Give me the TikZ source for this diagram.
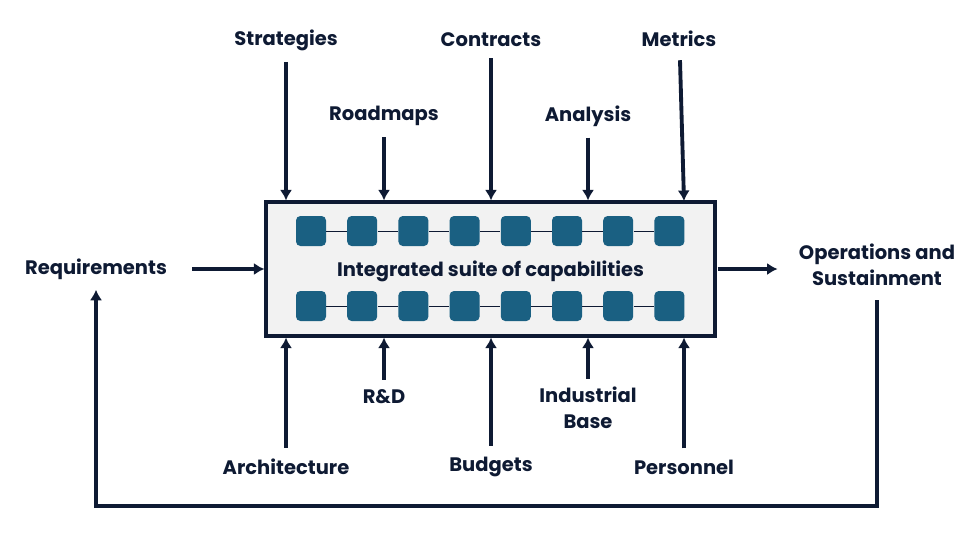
\documentclass[tikz,border=0pt]{standalone}
\usepackage{fontspec}
\setmainfont{Poppins}
\usetikzlibrary{arrows.meta}
\definecolor{navy}{HTML}{0E1A33}
\definecolor{tealbox}{HTML}{1A6082}
\definecolor{panel}{HTML}{F2F2F2}
\tikzset{
  lbl/.style={font=\bfseries\fontsize{11.1}{15}\selectfont, text=navy, align=center, inner sep=0pt},
  capbox/.style={fill=tealbox, draw=none, rounded corners=2.5pt, minimum size=30*0.02cm, inner sep=0pt},
  flow/.style={->, line width=2.2pt, draw=navy},
}
\begin{document}
\begin{tikzpicture}[x=0.02cm, y=-0.02cm, >={Latex[length=6pt,width=7pt]}]
  \useasboundingbox (0,0) rectangle (970,534);

  % --- CENTRAL BOX ---
  \node[draw=navy, line width=1.8pt, fill=panel, minimum width=449*0.02cm, minimum height=134*0.02cm, inner sep=0pt] (box) at (490.5,269) {};
  \node[lbl] (title) at (490.5,271) {Integrated suite of capabilities};

  % --- CAPABILITY SQUARES ---
  \foreach \i in {0,...,7} {
    \node[capbox] (t\i) at (311+51.2*\i, 231) {};
    \node[capbox] (b\i) at (311+51.2*\i, 306) {};
  }
  \foreach \i [evaluate=\i as \j using int(\i+1)] in {0,...,6} {
    \draw[navy, line width=0.4pt] (t\i) -- (t\j);
    \draw[navy, line width=0.4pt] (b\i) -- (b\j);
  }

  % --- INPUTS FROM ABOVE ---
  \node[lbl] (strat) at (286,40) {Strategies};
  \node[lbl] (contr) at (491,40) {Contracts};
  \node[lbl] (metr) at (679,39) {Metrics};
  \node[lbl] (road) at (384,116) {Roadmaps};
  \node[lbl] (anal) at (588,116) {Analysis};
  \coordinate (metrend) at (684,201);
  \draw[flow] (strat.south) ++(0,11) -- (strat |- box.north);
  \draw[flow] (contr.south) ++(0,11) -- (contr |- box.north);
  \draw[flow] (metr.south) ++(1,13) -- (metrend);
  \draw[flow] (road.south) ++(0,11) -- (road |- box.north);
  \draw[flow] (anal.south) ++(0,11) -- (anal |- box.north);

  % --- INPUTS FROM BELOW ---
  \node[lbl] (arch) at (286,467) {Architecture};
  \node[lbl] (rnd) at (384,397) {R\&D};
  \node[lbl] (budg) at (491,467) {Budgets};
  \node[lbl] (indus) at (588,408) {Industrial\\Base};
  \node[lbl] (pers) at (684,467) {Personnel};
  \draw[flow] (arch.north) ++(0,-11) -- (arch |- box.south);
  \draw[flow] (rnd.north) ++(0,-10) -- (rnd |- box.south);
  \draw[flow] (budg.north) ++(0,-11) -- (budg |- box.south);
  \draw[flow] (indus.north) ++(0,-8) -- (indus |- box.south);
  \draw[flow] (pers.north) ++(0,-11) -- (pers |- box.south);

  % --- LEFT INPUT, RIGHT OUTPUT ---
  \node[lbl] (req) at (96,269) {Requirements};
  \node[lbl] (ops) at (877,265) {Operations and\\Sustainment};
  \draw[flow] (req.east) ++(25,0) -- (box.west |- req);
  \draw[flow] (box.east |- req) ++(1,0) -- ++(60,0);

  % --- FEEDBACK LOOP ---
  \path (req.south) ++(0,10) coordinate (fbend);
  \draw[flow] (ops.south) ++(0,14) -- (877,506) -| (fbend);
\end{tikzpicture}
\end{document}
